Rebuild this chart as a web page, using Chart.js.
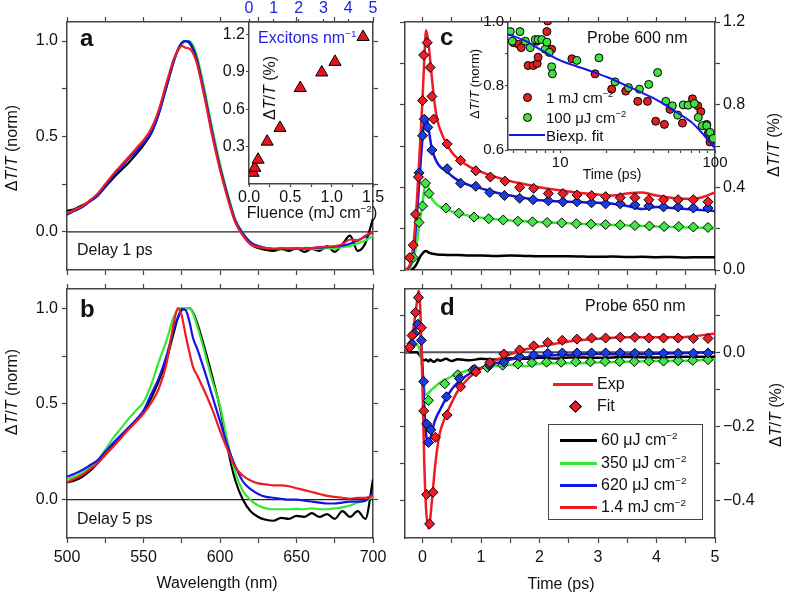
<!DOCTYPE html>
<html>
<head>
<meta charset="utf-8">
<script src="https://cdn.jsdelivr.net/npm/chart.js@4.4.1/dist/chart.umd.min.js"></script>
<style>
body { margin: 0; background: #fff; }
#wrap { position: relative; width: 788px; height: 592px; overflow: hidden; font-family: 'Liberation Sans', Arial, sans-serif; color: #111; }
#wrap canvas { position: absolute; left: 0; top: 0; }
#ann { position: absolute; left: 0; top: 0; width: 788px; height: 592px; pointer-events: none; }
.t { position: absolute; white-space: nowrap; line-height: 1; font-size: 16px; }
.t sup { font-size: 0.62em; vertical-align: 0.6em; line-height: 0; }
.m { position: absolute; }
</style>
</head>
<body>
<div id="wrap">
  <canvas id="cA" width="788" height="592"></canvas>
  <canvas id="cAi" width="788" height="592"></canvas>
  <canvas id="cB" width="788" height="592"></canvas>
  <canvas id="cC" width="788" height="592"></canvas>
  <canvas id="cCi" width="788" height="592"></canvas>
  <canvas id="cD" width="788" height="592"></canvas>
  <div id="ann"></div>
</div>
<script>
// ---- data ----
// wavelength grid (nm) for panels a and b
const wl = [500,505,510,515,520,525,530,535,540,545,550,555,560,565,570,572.5,575,577.5,580,582.5,585,590,595,600,605,610,615,620,625,630,635,640,645,650,655,660,665,670,675,680,685,690,695,700];

// panel a, delay 1 ps (normalised)
const aBlack = [0.11,0.12,0.14,0.16,0.19,0.235,0.28,0.32,0.36,0.405,0.455,0.515,0.62,0.76,0.9,0.955,0.99,1.0,0.99,0.955,0.895,0.715,0.515,0.335,0.185,0.055,-0.015,-0.065,-0.085,-0.095,-0.1,-0.09,-0.1,-0.085,-0.105,-0.09,-0.1,-0.075,-0.105,-0.065,-0.02,-0.1,-0.06,0.07];
const aGreen = [0.095,0.115,0.135,0.165,0.195,0.245,0.295,0.34,0.385,0.43,0.47,0.525,0.625,0.765,0.9,0.95,0.985,1.0,1.0,0.975,0.92,0.74,0.54,0.355,0.2,0.065,-0.005,-0.055,-0.075,-0.085,-0.09,-0.092,-0.09,-0.09,-0.09,-0.088,-0.09,-0.085,-0.088,-0.08,-0.075,-0.06,-0.045,-0.02];
const aBlue = [0.09,0.11,0.13,0.16,0.19,0.24,0.29,0.335,0.38,0.42,0.465,0.52,0.62,0.76,0.9,0.955,0.99,1.0,0.995,0.96,0.9,0.72,0.52,0.34,0.19,0.06,-0.01,-0.055,-0.075,-0.085,-0.09,-0.09,-0.088,-0.088,-0.087,-0.085,-0.083,-0.08,-0.078,-0.072,-0.062,-0.045,-0.025,0.0];
const aRed = [0.095,0.115,0.135,0.165,0.2,0.25,0.3,0.345,0.39,0.435,0.48,0.54,0.64,0.78,0.91,0.95,0.975,0.965,0.96,0.935,0.88,0.7,0.5,0.325,0.175,0.05,-0.02,-0.065,-0.08,-0.085,-0.088,-0.085,-0.087,-0.085,-0.09,-0.085,-0.08,-0.078,-0.075,-0.065,-0.04,-0.045,-0.02,0.0];

// panel b, delay 5 ps (normalised)
const bBlack = [0.09,0.1,0.12,0.15,0.19,0.235,0.28,0.325,0.37,0.415,0.46,0.53,0.62,0.73,0.88,0.95,0.99,1.0,1.0,0.975,0.925,0.79,0.64,0.48,0.27,0.1,0.0,-0.06,-0.09,-0.105,-0.11,-0.095,-0.1,-0.085,-0.09,-0.07,-0.09,-0.075,-0.1,-0.06,-0.09,-0.06,-0.1,0.105];
const bGreen = [0.105,0.12,0.14,0.17,0.205,0.26,0.32,0.37,0.42,0.465,0.51,0.6,0.72,0.83,0.96,0.99,1.0,1.0,1.0,0.97,0.91,0.77,0.62,0.49,0.3,0.14,0.045,-0.002,-0.03,-0.045,-0.05,-0.05,-0.05,-0.048,-0.05,-0.045,-0.05,-0.05,-0.045,-0.04,-0.03,-0.015,-0.005,0.015];
const bBlue = [0.12,0.135,0.155,0.18,0.205,0.25,0.295,0.335,0.375,0.415,0.465,0.55,0.635,0.75,0.9,0.95,0.995,0.99,0.93,0.84,0.79,0.67,0.54,0.41,0.28,0.175,0.095,0.055,0.03,0.015,0.01,0.005,0.0,0.0,-0.005,-0.01,-0.015,-0.02,-0.02,-0.015,-0.01,-0.01,-0.005,0.035];
const bRed = [0.09,0.11,0.13,0.16,0.19,0.235,0.275,0.32,0.365,0.405,0.45,0.505,0.58,0.71,0.93,1.0,0.96,0.86,0.77,0.69,0.65,0.565,0.47,0.36,0.26,0.17,0.125,0.1,0.085,0.08,0.075,0.075,0.07,0.06,0.05,0.04,0.03,0.02,0.015,0.01,0.005,0.01,0.01,0.02];

// inset a: fluence (mJ cm-2) vs dT/T (%)
const fluence = [0.05,0.07,0.11,0.22,0.375,0.62,0.88,1.04,1.38];
const dttPct = [0.09,0.13,0.195,0.34,0.45,0.77,0.895,0.98,1.18];

// panel c, probe 600 nm (%): experiment lines
const tC = [-0.3,-0.25,-0.2,-0.15,-0.1,-0.05,0,0.03,0.06,0.1,0.15,0.2,0.25,0.3,0.4,0.5,0.6,0.8,1.0,1.25,1.5,1.75,2.0,2.5,3.0,3.25,3.5,3.75,4.0,4.25,4.5,4.75,5.0];
const cRed = [0,0.01,0.04,0.14,0.32,0.57,0.83,1.02,1.16,1.1,0.96,0.82,0.73,0.68,0.615,0.57,0.54,0.5,0.475,0.45,0.43,0.415,0.4,0.38,0.365,0.36,0.37,0.375,0.36,0.35,0.345,0.35,0.375];
const cBlue = [0,0.005,0.03,0.1,0.25,0.45,0.64,0.72,0.74,0.69,0.6,0.55,0.52,0.5,0.48,0.455,0.435,0.41,0.395,0.375,0.36,0.348,0.338,0.33,0.325,0.32,0.31,0.295,0.305,0.3,0.295,0.29,0.285];
const cGreen = [0,0,0.02,0.06,0.13,0.23,0.32,0.39,0.43,0.4,0.35,0.33,0.315,0.305,0.295,0.283,0.275,0.262,0.253,0.246,0.24,0.236,0.232,0.226,0.22,0.218,0.215,0.213,0.21,0.208,0.206,0.204,0.2];
const cBlack = [0,0,0,0.01,0.03,0.06,0.08,0.09,0.092,0.085,0.08,0.077,0.075,0.074,0.073,0.072,0.072,0.07,0.07,0.068,0.07,0.068,0.066,0.067,0.064,0.065,0.063,0.064,0.062,0.063,0.061,0.062,0.062];
// panel c fits (diamonds)
const cRedFitT = [-0.22,-0.16,-0.12,-0.07,0,0.02,0.08,0.13,0.16,0.19,0.42,0.65,0.91,1.16,1.41,1.66,1.9,2.15,2.4,2.64,2.89,3.13,3.38,3.63,3.87,4.12,4.37,4.63,4.88];
const cRedFit = [0.06,0.12,0.27,0.45,0.82,1.04,1.1,0.98,0.84,0.73,0.61,0.53,0.48,0.45,0.43,0.4,0.395,0.37,0.37,0.363,0.36,0.355,0.35,0.35,0.34,0.34,0.34,0.34,0.33];
const cBlueFitT = [-0.06,0,0.03,0.09,0.16,0.42,0.65,0.91,1.15,1.4,1.66,1.89,2.15,2.4,2.64,2.89,3.13,3.38,3.63,3.87,4.12,4.37,4.63,4.88];
const cBlueFit = [0.47,0.65,0.73,0.69,0.58,0.49,0.42,0.405,0.375,0.36,0.347,0.34,0.335,0.33,0.33,0.325,0.32,0.32,0.315,0.31,0.305,0.305,0.3,0.3];
const cGreenFitT = [-0.16,-0.06,0,0.05,0.11,0.4,0.62,0.88,1.13,1.38,1.63,1.88,2.13,2.38,2.63,2.88,3.13,3.38,3.63,3.88,4.13,4.38,4.63,4.88];
const cGreenFit = [0.06,0.23,0.31,0.42,0.37,0.3,0.275,0.256,0.248,0.242,0.236,0.233,0.23,0.228,0.224,0.222,0.22,0.218,0.215,0.213,0.21,0.21,0.208,0.206];

// inset c: normalised decay on log time
const icRedT = [5.0,5.4,5.6,6.2,6.7,7.07,7.1,7.2,8.2,8.3,8.8,11.9,16.8,21.5,26.5,31.7,36.6,41.4,47.1,51.2,61.6,71.5,77.4,81,88.4,90.5,92.8];
const icRed = [0.935,0.93,0.92,0.864,0.864,0.94,0.87,0.89,0.97,1.003,0.915,0.885,0.838,0.79,0.784,0.752,0.752,0.69,0.68,0.727,0.684,0.76,0.738,0.72,0.68,0.652,0.625];
const icGreenT = [4.76,4.9,5.5,5.95,6.4,6.9,7.2,7.6,8.0,8.2,8.5,8.8,8.9,12.8,17.8,22.6,27.6,32.5,37.3,42.6,48.1,53,57.4,62.4,67,73.6,78,82.8,88.4,92.8,97.4];
const icGreen = [0.97,0.94,0.97,0.94,0.92,0.945,0.945,0.945,0.915,0.937,0.905,0.86,0.838,0.88,0.888,0.813,0.795,0.79,0.805,0.842,0.752,0.738,0.709,0.741,0.74,0.745,0.702,0.676,0.676,0.655,0.636];
const icFitT = [4.6,6,8,10,15,20,30,40,50,60,70,80,90,100];
const icFit = [0.962,0.94,0.905,0.88,0.85,0.828,0.79,0.762,0.735,0.71,0.688,0.66,0.632,0.605];

// panel d, probe 650 nm (%): experiment lines
const tD = [-0.3,-0.25,-0.2,-0.15,-0.1,-0.07,-0.04,0,0.03,0.06,0.1,0.13,0.16,0.2,0.25,0.3,0.4,0.5,0.6,0.8,1.0,1.25,1.5,1.75,2.0,2.25,2.5,3.0,3.5,4.0,4.5,5.0];
const dRed = [0,0.01,0.03,0.07,0.13,0.165,0.12,-0.1,-0.3,-0.42,-0.475,-0.45,-0.4,-0.33,-0.26,-0.215,-0.17,-0.135,-0.105,-0.068,-0.044,-0.022,-0.006,0.007,0.015,0.022,0.029,0.036,0.04,0.04,0.041,0.05];
const dBlue = [0,0.005,0.02,0.045,0.075,0.085,0.06,-0.04,-0.15,-0.22,-0.25,-0.235,-0.215,-0.19,-0.17,-0.155,-0.125,-0.1,-0.082,-0.058,-0.043,-0.03,-0.02,-0.014,-0.01,-0.008,-0.007,-0.005,-0.006,-0.004,-0.002,0];
const dGreen = [0,0.002,0.008,0.015,0.02,0.015,0.0,-0.05,-0.1,-0.115,-0.11,-0.105,-0.1,-0.095,-0.088,-0.082,-0.073,-0.065,-0.058,-0.048,-0.042,-0.037,-0.034,-0.038,-0.031,-0.03,-0.03,-0.028,-0.026,-0.024,-0.023,-0.02];
const dBlack = [0,0,0,0,0,-0.004,-0.01,-0.02,-0.022,-0.02,-0.025,-0.02,-0.023,-0.026,-0.02,-0.023,-0.018,-0.024,-0.019,-0.022,-0.018,-0.02,-0.016,-0.018,-0.015,-0.017,-0.014,-0.015,-0.013,-0.014,-0.012,-0.012];
// panel d fits (diamonds)
const dRedFitT = [-0.22,-0.18,-0.12,-0.07,-0.02,0.02,0.07,0.12,0.18,0.22,0.42,0.65,0.91,1.15,1.39,1.66,1.9,2.14,2.39,2.64,2.89,3.13,3.38,3.63,3.87,4.12,4.37,4.63,4.88];
const dRedFit = [0.013,0.045,0.107,0.147,0.066,-0.158,-0.383,-0.462,-0.377,-0.229,-0.169,-0.093,-0.053,-0.028,-0.005,0.006,0.017,0.026,0.032,0.035,0.038,0.038,0.04,0.04,0.038,0.038,0.038,0.037,0.037];
const dBlueFitT = [-0.18,-0.14,-0.08,-0.02,0.02,0.07,0.1,0.14,0.41,0.63,0.89,1.14,1.39,1.66,1.9,2.14,2.39,2.64,2.89,3.13,3.38,3.63,3.87,4.12,4.37,4.63,4.88];
const dBlueFit = [0.023,0.05,0.075,0.032,-0.079,-0.193,-0.243,-0.209,-0.12,-0.071,-0.046,-0.035,-0.027,-0.012,-0.008,-0.003,-0.002,-0.002,-0.002,-0.002,-0.002,-0.003,-0.003,-0.003,-0.003,-0.003,-0.002];
const dGreenFitT = [0.1,0.38,0.6,0.86,1.11,1.37,1.63,1.87,2.12,2.37,2.62,2.87,3.12,3.37,3.62,3.87,4.12,4.37,4.62,4.88];
const dGreenFit = [-0.13,-0.085,-0.061,-0.048,-0.041,-0.035,-0.032,-0.028,-0.027,-0.027,-0.026,-0.026,-0.025,-0.025,-0.025,-0.024,-0.024,-0.023,-0.022,-0.02];

// tick positions and labelled ticks
const wlTicks = [500,525,550,575,600,625,650,675,700];
const wlLabels = [500,550,600,650,700];
const normTicks = [0,0.25,0.5,0.75,1.0];
const normLabels = [0,0.5,1.0];
const tTicks = [0,0.5,1,1.5,2,2.5,3,3.5,4,4.5,5];
const tLabels = [0,1,2,3,4,5];
const cTicks = [0,0.2,0.4,0.6,0.8,1.0,1.2];
const cLabels = [0,0.4,0.8,1.2];
const dTicks = [-0.4,-0.3,-0.2,-0.1,0,0.1];
const dLabels = [-0.4,-0.2,0];
const fluTicks = [0,0.25,0.5,0.75,1.0,1.25,1.5];
const fluLabels = [0,0.5,1.0,1.5];
const excTicks = [0,1,2,3,4,5];
const pctTicks = [0.3,0.6,0.9,1.2];
const logTicks = [5,6,7,8,9,10,20,30,40,50,60,70,80,90,100];
const logLabels = [10,100];
const icTicks = [0.6,0.7,0.8,0.9,1.0];
const icLabels = [0.6,0.8,1.0];

// ---- drawing ----
const W = 788, H = 592;
const BLACK = '#000', GREEN = '#34e834', BLUE = '#1515e6', RED = '#ee1c24';
Chart.defaults.font.family = "'Liberation Sans', Arial, sans-serif";
Chart.defaults.font.size = 16;
Chart.defaults.color = '#111';

function fmt1(v) { return v < 0 ? '\u2212' + Math.abs(v).toFixed(1) : v.toFixed(1); }
function fmtInt(v) { return String(v); }

// axis with fixed box size so the plot areas of all panels line up
function sc(pos, min, max, ticks, labels, fmt, o) {
  o = o || {};
  const vert = pos === 'left' || pos === 'right';
  const boxSize = labels.length ? (o.box || (vert ? 45 : 30)) : 0;
  return {
    type: o.type || 'linear',
    position: pos,
    min: min, max: max,
    boxSize: boxSize,
    afterFit: s => { if (vert) s.width = boxSize; else s.height = boxSize; },
    afterBuildTicks: s => { s.ticks = ticks.map(v => ({ value: v })); },
    grid: { drawOnChartArea: false, drawTicks: true, tickLength: o.tl || 5, tickColor: '#444', tickWidth: 1.2 },
    border: { display: true, color: '#444', width: 1.5 },
    ticks: {
      autoSkip: false, maxRotation: 0, minRotation: 0,
      padding: o.pad == null ? 4 : o.pad,
      color: o.color || '#111',
      font: { size: o.size || 16 },
      callback: v => labels.indexOf(v) >= 0 ? fmt(v) : ''
    }
  };
}

const pts = (xs, ys) => xs.map((x, i) => ({ x: x, y: ys[i] }));
function line(xs, ys, color, w) {
  return { data: pts(xs, ys), showLine: true, borderColor: color, borderWidth: w,
    pointRadius: 0, cubicInterpolationMode: 'monotone' };
}
function marks(xs, ys, color, style, r) {
  return { data: pts(xs, ys), showLine: false, pointStyle: style, pointRadius: r,
    backgroundColor: color, borderColor: '#000', borderWidth: 1 };
}

const whiteBg = {
  id: 'whiteBg',
  beforeDraw(chart) {
    const a = chart.chartArea, c = chart.ctx;
    c.save();
    c.fillStyle = '#fff';
    c.fillRect(a.left, a.top + 1, a.right - a.left - 1, a.bottom - a.top - 1);
    c.restore();
  }
};

function panel(id, box, scales, datasets, bg) {
  const used = { left: 0, right: 0, top: 0, bottom: 0 };
  Object.values(scales).forEach(s => { used[s.position] += s.boxSize; });
  return new Chart(document.getElementById(id), {
    type: 'scatter',
    data: { datasets: datasets },
    options: {
      responsive: false, animation: false, events: [],
      layout: { padding: {
        left: box[0] - used.left, top: box[1] - used.top,
        right: W - box[2] - used.right, bottom: H - box[3] - used.bottom } },
      plugins: { legend: { display: false }, tooltip: { enabled: false } },
      scales: scales
    },
    plugins: bg ? [whiteBg] : []
  });
}

// panel a
panel('cA', [67, 22, 373, 270], {
  x: sc('bottom', 500, 700, wlTicks, [], fmtInt),
  x2: sc('top', 500, 700, wlTicks, [], fmtInt),
  y: sc('left', -0.2, 1.1, normTicks, normLabels, fmt1),
  y2: sc('right', -0.2, 1.1, normTicks, [], fmt1)
}, [
  line(wl, aRed, RED, 2.2), line(wl, aBlue, BLUE, 2.2), line(wl, aGreen, GREEN, 2.2), line(wl, aBlack, BLACK, 2.2),
  line([500, 700], [0, 0], '#222', 1.2)
]);

// inset a
panel('cAi', [249, 22, 373, 184], {
  x: sc('bottom', 0, 1.5, fluTicks, fluLabels, fmt1, { tl: 3, pad: 1, box: 22 }),
  x2: sc('top', 0, 5, excTicks, excTicks, fmtInt, { tl: 3, pad: 1, box: 22, color: '#2222dd' }),
  y: sc('left', 0, 1.3, pctTicks, pctTicks, fmt1, { tl: 3, pad: 1, box: 32 })
}, [
  marks(fluence, dttPct, '#e8141c', 'triangle', 7)
], true);

// panel b
panel('cB', [67, 289, 373, 538], {
  x: sc('bottom', 500, 700, wlTicks, wlLabels, fmtInt, { pad: 5 }),
  x2: sc('top', 500, 700, wlTicks, [], fmtInt),
  y: sc('left', -0.2, 1.1, normTicks, normLabels, fmt1),
  y2: sc('right', -0.2, 1.1, normTicks, [], fmt1)
}, [
  line(wl, bRed, RED, 2.2), line(wl, bBlue, BLUE, 2.2), line(wl, bGreen, GREEN, 2.2), line(wl, bBlack, BLACK, 2.2),
  line([500, 700], [0, 0], '#222', 1.2)
]);

// panel c
panel('cC', [405, 22, 715, 270], {
  x: sc('bottom', -0.3, 5, tTicks, [], fmtInt),
  x2: sc('top', -0.3, 5, tTicks, [], fmtInt),
  y: sc('left', 0, 1.2, cTicks, [], fmt1),
  y2: sc('right', 0, 1.2, cTicks, cLabels, fmt1, { pad: 3 })
}, [
  marks(cRedFitT, cRedFit, RED, 'rectRot', 5),
  marks(cBlueFitT, cBlueFit, '#1a3ce6', 'rectRot', 5),
  marks(cGreenFitT, cGreenFit, '#44e444', 'rectRot', 5),
  line(tC, cRed, RED, 2.5), line(tC, cBlue, BLUE, 2.5), line(tC, cGreen, GREEN, 2.5), line(tC, cBlack, BLACK, 2.5)
]);

// inset c
panel('cCi', [508, 22, 715, 150], {
  x: sc('bottom', 4.6, 100, logTicks, logLabels, fmtInt, { type: 'logarithmic', tl: 3, pad: 1, box: 22, size: 15 }),
  y: sc('left', 0.6, 1.0, icTicks, icLabels, fmt1, { tl: 3, pad: 1, box: 32, size: 15 })
}, [
  line(icFitT, icFit, BLUE, 2),
  marks(icGreenT, icGreen, '#3fe03f', 'circle', 4),
  marks(icRedT, icRed, '#e02020', 'circle', 4)
], true);

// panel d
panel('cD', [405, 289, 715, 538], {
  x: sc('bottom', -0.3, 5, tTicks, tLabels, fmtInt, { pad: 5 }),
  x2: sc('top', -0.3, 5, tTicks, [], fmtInt),
  y: sc('left', -0.5, 0.17, dTicks, [], fmt1),
  y2: sc('right', -0.5, 0.17, dTicks, dLabels, fmt1, { pad: 3 })
}, [
  marks(dRedFitT, dRedFit, RED, 'rectRot', 5),
  marks(dBlueFitT, dBlueFit, '#1a3ce6', 'rectRot', 5),
  marks(dGreenFitT, dGreenFit, '#44e444', 'rectRot', 5),
  line(tD, dRed, RED, 2.5), line(tD, dBlue, BLUE, 2.5), line(tD, dGreen, GREEN, 2.5), line(tD, dBlack, BLACK, 2.5),
  line([-0.3, 5], [0, 0], '#555', 2)
]);

// ---- text and legends ----
const ann = document.getElementById('ann');
function txt(html, x, y, o) {
  o = o || {};
  const d = document.createElement('div');
  d.className = 't';
  d.innerHTML = html;
  d.style.left = x + 'px';
  d.style.top = y + 'px';
  if (o.size) d.style.fontSize = o.size + 'px';
  if (o.bold) d.style.fontWeight = 'bold';
  if (o.color) d.style.color = o.color;
  let tf = o.anchor === 'c' ? 'translate(-50%,-50%)' : 'translate(0,-50%)';
  if (o.rot) tf = 'translate(-50%,-50%) rotate(-90deg)';
  d.style.transform = tf;
  ann.appendChild(d);
}
function seg(x1, x2, y, color, w) {
  const d = document.createElement('div');
  d.className = 'm';
  d.style.cssText += 'left:' + x1 + 'px;top:' + (y - w / 2) + 'px;width:' + (x2 - x1) + 'px;height:' + w + 'px;background:' + color;
  ann.appendChild(d);
}
function dot(x, y, r, color) {
  const d = document.createElement('div');
  d.className = 'm';
  d.style.cssText += 'left:' + (x - r) + 'px;top:' + (y - r) + 'px;width:' + (2 * r - 2) + 'px;height:' + (2 * r - 2) + 'px;border:1px solid #000;border-radius:50%;background:' + color;
  ann.appendChild(d);
}
function dia(x, y, s, color) {
  const d = document.createElement('div');
  d.className = 'm';
  d.style.cssText += 'left:' + (x - s / 2) + 'px;top:' + (y - s / 2) + 'px;width:' + (s - 2) + 'px;height:' + (s - 2) + 'px;border:1px solid #000;transform:rotate(45deg);background:' + color;
  ann.appendChild(d);
}

const dtt = '\u0394<i>T</i>/<i>T</i>';
txt('a', 80, 38, { bold: true, size: 24 });
txt('b', 80, 309, { bold: true, size: 24 });
txt('c', 440, 37, { bold: true, size: 24 });
txt('d', 440, 307, { bold: true, size: 24 });
txt('Delay 1 ps', 77, 250);
txt('Delay 5 ps', 77, 519);
txt('Probe 600 nm', 587, 38);
txt('Probe 650 nm', 585, 306);
txt(dtt + ' (norm)', 12, 148, { rot: true });
txt(dtt + ' (norm)', 12, 392, { rot: true });
txt('Wavelength (nm)', 217, 583, { anchor: 'c' });
txt('Time (ps)', 561, 584, { anchor: 'c' });
txt(dtt + ' (%)', 774, 145, { rot: true });
txt(dtt + ' (%)', 776, 415, { rot: true });

// inset a texts
txt('Excitons nm<sup>\u22121</sup>', 258, 38, { color: '#2222dd' });
txt(dtt + ' (%)', 270, 88, { rot: true });
txt('Fluence (mJ cm<sup>\u22122</sup>)', 312, 213, { anchor: 'c' });

// inset c texts and legend
txt(dtt + ' (norm)', 474, 84, { rot: true, size: 13 });
txt('Time (ps)', 612, 174, { anchor: 'c', size: 14 });
dot(527, 97, 4.5, '#e02020');
dot(527, 117, 4.5, '#3fe03f');
seg(509, 545, 135, BLUE, 2);
txt('1 mJ cm<sup>\u22122</sup>', 546, 97, { size: 15 });
txt('100 \u03bcJ cm<sup>\u22122</sup>', 546, 117, { size: 15 });
txt('Biexp. fit', 546, 135, { size: 15 });

// panel d legends
seg(553, 593, 384, RED, 3);
txt('Exp', 597, 384);
dia(575, 406, 9, RED);
txt('Fit', 597, 406);
const box = document.createElement('div');
box.className = 'm';
box.style.cssText += 'left:548px;top:424px;width:153px;height:94px;border:1px solid #444;background:#fff';
ann.appendChild(box);
const legCols = [BLACK, GREEN, BLUE, RED];
const legText = ['60 \u03bcJ cm<sup>\u22122</sup>', '350 \u03bcJ cm<sup>\u22122</sup>', '620 \u03bcJ cm<sup>\u22122</sup>', '1.4 mJ cm<sup>\u22122</sup>'];
const legY = [440, 463, 485, 507];
legCols.forEach((c, i) => {
  seg(560, 597, legY[i], c, 3);
  txt(legText[i], 601, legY[i]);
});
</script>
</body>
</html>
